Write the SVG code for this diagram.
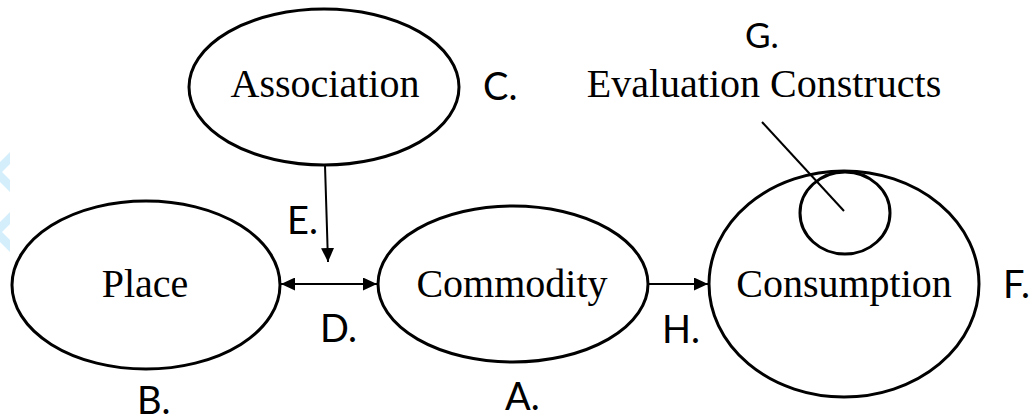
<svg xmlns="http://www.w3.org/2000/svg" width="1031" height="420" viewBox="0 0 1031 420">
<style>
.node{fill:#fff;stroke:#000;stroke-width:3}
.nt{font-family:"Liberation Serif","Times New Roman",serif;font-size:40px;fill:#000;text-anchor:middle}
.lb{font-family:Lato,"Open Sans",sans-serif;font-size:38px;fill:#000}
.cn{stroke:#000;stroke-width:2;fill:none}
.wm{fill:#d5eefb}
</style>
<defs>
<marker id="ah" viewBox="0 0 10 10" refX="10" refY="5" markerWidth="7" markerHeight="6.5" markerUnits="strokeWidth" orient="auto-start-reverse" preserveAspectRatio="none">
<path d="M0,0 L10,5 L0,10 z" fill="#000"/>
</marker>
</defs>
<rect width="1031" height="420" fill="#fff"/>
<g id="watermark">
<path class="wm" d="M0,162 L10,152 L10,164 L2,172 L10,180 L10,192 L0,182 z"/>
<path class="wm" d="M0,222 L10,212 L10,224 L2,232 L10,240 L10,252 L0,242 z"/>
</g>
<g id="place">
<ellipse class="node" cx="146" cy="285" rx="134" ry="84"/>
<text class="nt" x="145" y="297">Place</text>
</g>
<g id="association">
<ellipse class="node" cx="324" cy="87" rx="135" ry="78"/>
<text class="nt" x="325" y="97">Association</text>
</g>
<g id="commodity">
<ellipse class="node" cx="513" cy="284" rx="135" ry="78"/>
<text class="nt" x="512" y="297">Commodity</text>
</g>
<g id="consumption">
<ellipse class="node" cx="844" cy="284" rx="135" ry="113"/>
<text class="nt" x="844" y="297">Consumption</text>
</g>
<g id="evaluation">
<ellipse class="node" cx="845" cy="213" rx="45" ry="41" style="fill:none"/>
<text class="nt" x="764" y="97">Evaluation Constructs</text>
</g>
<g id="connectors">
<line class="cn" x1="325" y1="165" x2="328" y2="262" marker-end="url(#ah)"/>
<line class="cn" x1="281" y1="284" x2="377" y2="284" marker-start="url(#ah)" marker-end="url(#ah)"/>
<line class="cn" x1="649" y1="284" x2="708" y2="284" marker-end="url(#ah)"/>
<line class="cn" x1="762" y1="122" x2="844" y2="211"/>
</g>
<g id="labels">
<text class="lb" x="483" y="100">C.</text>
<text class="lb" x="745" y="48" style="font-size:35px">G.</text>
<text class="lb" x="287" y="234">E.</text>
<text class="lb" x="320" y="342">D.</text>
<text class="lb" x="662" y="343">H.</text>
<text class="lb" x="1003" y="298">F.</text>
<text class="lb" x="137" y="414">B.</text>
<text class="lb" x="505" y="410">A.</text>
</g>
</svg>
